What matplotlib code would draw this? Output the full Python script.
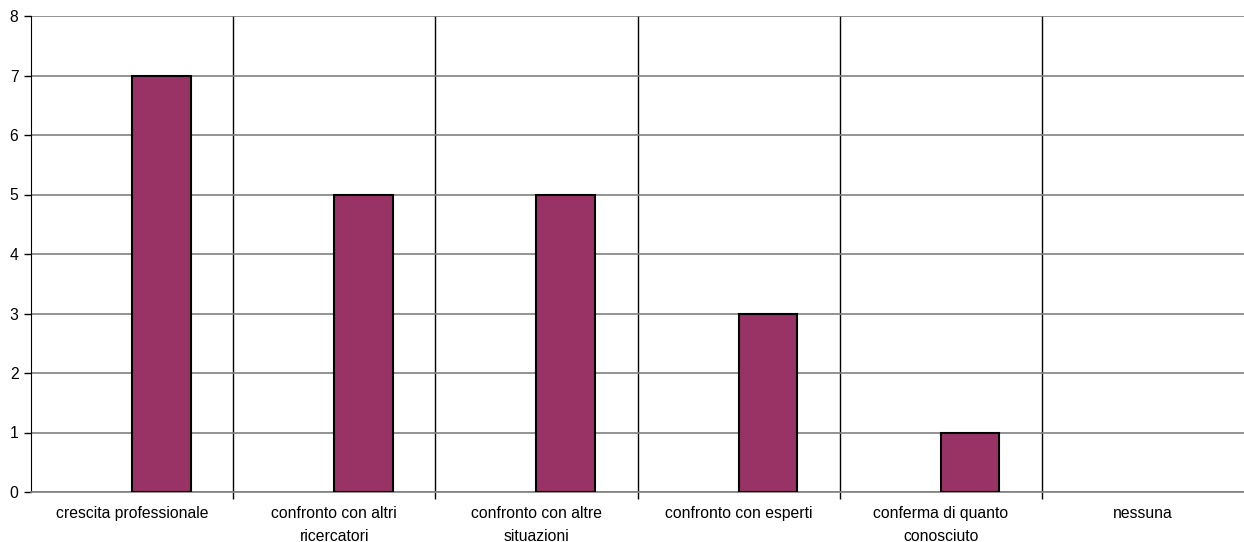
import matplotlib.pyplot as plt
import numpy as np

# Risposte per categoria
categories = [
    "crescita professionale",
    "confronto con altri\nricercatori",
    "confronto con altre\nsituazioni",
    "confronto con esperti",
    "conferma di quanto\nconosciuto",
    "nessuna",
]
counts = [7, 5, 5, 3, 1, 0]

plt.rcParams['font.family'] = ['Liberation Sans', 'DejaVu Sans']

fig = plt.figure(figsize=(12.44, 5.42), dpi=100)
ax = fig.add_axes([31 / 1244, 1 - 492 / 542, 1213 / 1244, 476 / 542])

x = np.arange(len(categories))
# bars start at the category centre, as in the original spreadsheet chart
edges = ['black' if c > 0 else 'none' for c in counts]
ax.bar(x, counts, width=0.29, align='edge', color='#993366',
       edgecolor=edges, linewidth=1.5, zorder=3)

ax.set_xlim(-0.5, len(categories) - 0.5)
ax.set_ylim(0, 8)
ax.set_yticks(range(0, 9))
ax.set_xticks(x)
ax.set_xticklabels(categories, fontsize=11.3, linespacing=1.65)
ax.set_xticks(x[:-1] + 0.5, minor=True)

# horizontal grid grey, vertical category dividers black
ax.grid(axis='y', which='major', color='#808080', linewidth=1.2, zorder=1)
ax.grid(axis='x', which='minor', color='black', linewidth=1.0, zorder=1)

ax.tick_params(axis='x', which='major', length=0, pad=10)
ax.tick_params(axis='x', which='minor', length=5, width=1.0, color='black')
ax.tick_params(axis='y', length=5, width=1.0, labelsize=11.3, pad=4)

for side in ['top', 'right']:
    ax.spines[side].set_visible(False)
ax.spines['left'].set_color('black')
ax.spines['bottom'].set_color('#808080')
ax.spines['bottom'].set_linewidth(1.2)

fig.savefig('out.png', dpi=100)
